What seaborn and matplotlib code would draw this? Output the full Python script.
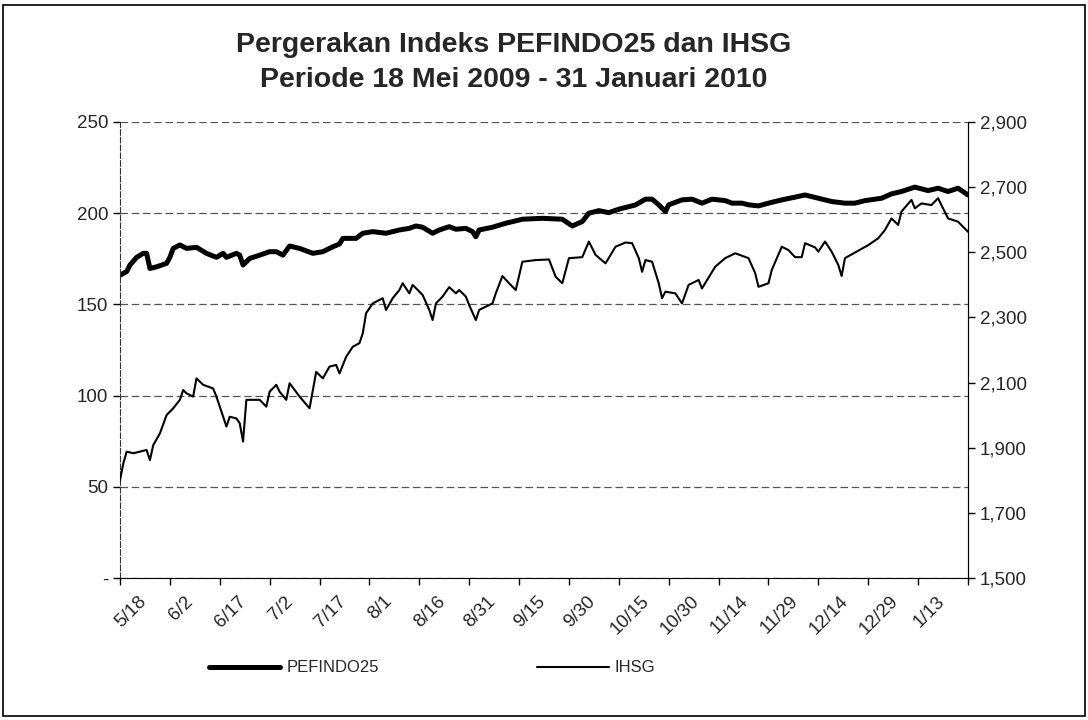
import pandas as pd
import matplotlib
matplotlib.use("Agg")
import matplotlib.pyplot as plt
import matplotlib.transforms as mtransforms
from matplotlib.ticker import FuncFormatter, MultipleLocator, FixedLocator
from matplotlib.patches import Rectangle
import seaborn as sns

# PEFINDO25 index (left axis)
pef_dates = [
    "2009-05-18", "2009-05-20", "2009-05-21", "2009-05-23", "2009-05-25", "2009-05-26",
    "2009-05-27", "2009-05-29", "2009-06-01", "2009-06-02", "2009-06-03", "2009-06-05",
    "2009-06-07", "2009-06-10", "2009-06-13", "2009-06-16", "2009-06-18", "2009-06-19",
    "2009-06-22", "2009-06-23", "2009-06-24", "2009-06-26", "2009-06-29", "2009-07-02",
    "2009-07-04", "2009-07-06", "2009-07-08", "2009-07-11", "2009-07-15", "2009-07-18",
    "2009-07-21", "2009-07-23", "2009-07-24", "2009-07-28", "2009-07-30", "2009-08-02",
    "2009-08-06", "2009-08-10", "2009-08-13", "2009-08-15", "2009-08-17", "2009-08-20",
    "2009-08-22", "2009-08-25", "2009-08-27", "2009-08-30", "2009-09-01", "2009-09-02",
    "2009-09-03", "2009-09-07", "2009-09-11", "2009-09-16", "2009-09-22", "2009-09-28",
    "2009-10-01", "2009-10-04", "2009-10-06", "2009-10-09", "2009-10-12", "2009-10-15",
    "2009-10-18", "2009-10-20", "2009-10-23", "2009-10-25", "2009-10-27", "2009-10-29",
    "2009-10-30", "2009-11-03", "2009-11-06", "2009-11-09", "2009-11-12", "2009-11-16",
    "2009-11-18", "2009-11-21", "2009-11-23", "2009-11-26", "2009-11-29", "2009-12-03",
    "2009-12-07", "2009-12-10", "2009-12-14", "2009-12-18", "2009-12-22", "2009-12-25",
    "2009-12-28", "2010-01-02", "2010-01-05", "2010-01-08", "2010-01-12", "2010-01-16",
    "2010-01-19", "2010-01-22", "2010-01-25", "2010-01-28",
]
pef_values = [
    166, 168, 171.6, 175.8, 178, 178,
    169.7, 170.6, 172.5, 175.8, 180.7, 182.6,
    180.7, 181.3, 178, 175.8, 178, 175.8,
    178, 177, 171.6, 175.2, 177, 178.9,
    178.9, 177, 182, 180.7, 178, 178.9,
    181.6, 183.1, 186.2, 186.2, 189, 189.9,
    189, 190.8, 191.7, 193, 192.3, 189,
    190.8, 192.6, 191.2, 191.7, 189.9, 187.1,
    190.8, 192.3, 194.5, 196.7, 197.2, 196.7,
    193, 195.4, 200, 201.4, 200.3, 202.2,
    203.6, 204.5, 207.7, 207.7, 204.6, 200.9,
    204.6, 207.3, 207.7, 205.5, 207.7, 206.9,
    205.5, 205.5, 204.6, 204, 205.5, 207.3,
    208.8, 210, 208.2, 206.4, 205.5, 205.5,
    206.9, 208.2, 210.6, 211.9, 214.3, 212.4,
    213.7, 211.9, 213.7, 210,
]

# IHSG index (right axis)
ihsg_dates = [
    "2009-05-18", "2009-05-19", "2009-05-20", "2009-05-22", "2009-05-26", "2009-05-27",
    "2009-05-28", "2009-05-30", "2009-06-01", "2009-06-03", "2009-06-05", "2009-06-06",
    "2009-06-07", "2009-06-09", "2009-06-10", "2009-06-12", "2009-06-15", "2009-06-16",
    "2009-06-18", "2009-06-19", "2009-06-20", "2009-06-22", "2009-06-23", "2009-06-24",
    "2009-06-25", "2009-06-29", "2009-07-01", "2009-07-02", "2009-07-04", "2009-07-05",
    "2009-07-07", "2009-07-08", "2009-07-11", "2009-07-14", "2009-07-16", "2009-07-18",
    "2009-07-20", "2009-07-22", "2009-07-23", "2009-07-25", "2009-07-27", "2009-07-29",
    "2009-07-30", "2009-07-31", "2009-08-02", "2009-08-05", "2009-08-06", "2009-08-08",
    "2009-08-10", "2009-08-11", "2009-08-13", "2009-08-14", "2009-08-17", "2009-08-19",
    "2009-08-20", "2009-08-21", "2009-08-23", "2009-08-25", "2009-08-27", "2009-08-28",
    "2009-08-30", "2009-08-31", "2009-09-02", "2009-09-03", "2009-09-07", "2009-09-08",
    "2009-09-10", "2009-09-12", "2009-09-14", "2009-09-16", "2009-09-20", "2009-09-24",
    "2009-09-26", "2009-09-28", "2009-09-30", "2009-10-04", "2009-10-06", "2009-10-08",
    "2009-10-11", "2009-10-14", "2009-10-17", "2009-10-19", "2009-10-21", "2009-10-22",
    "2009-10-23", "2009-10-25", "2009-10-27", "2009-10-28", "2009-10-29", "2009-11-01",
    "2009-11-03", "2009-11-05", "2009-11-08", "2009-11-09", "2009-11-13", "2009-11-16",
    "2009-11-19", "2009-11-23", "2009-11-25", "2009-11-26", "2009-11-29", "2009-11-30",
    "2009-12-03", "2009-12-05", "2009-12-07", "2009-12-09", "2009-12-10", "2009-12-13",
    "2009-12-14", "2009-12-16", "2009-12-18", "2009-12-20", "2009-12-21", "2009-12-22",
    "2009-12-25", "2009-12-29", "2010-01-01", "2010-01-03", "2010-01-05", "2010-01-07",
    "2010-01-08", "2010-01-11", "2010-01-12", "2010-01-14", "2010-01-17", "2010-01-19",
    "2010-01-20", "2010-01-22", "2010-01-25", "2010-01-28",
]
ihsg_values = [
    1800, 1852, 1888, 1883, 1893, 1862,
    1908, 1944, 2000, 2021, 2047, 2077,
    2067, 2057, 2113, 2093, 2082, 2057,
    1995, 1965, 1995, 1990, 1975, 1919,
    2047, 2047, 2026, 2072, 2093, 2072,
    2047, 2098, 2057, 2021, 2133, 2113,
    2149, 2154, 2128, 2179, 2210, 2221,
    2251, 2313, 2343, 2359, 2323, 2359,
    2384, 2405, 2374, 2400, 2369, 2323,
    2292, 2343, 2364, 2393, 2374, 2384,
    2364, 2338, 2292, 2323, 2343, 2374,
    2427, 2405, 2384, 2471, 2476, 2478,
    2425, 2405, 2482, 2485, 2533, 2492,
    2466, 2517, 2530, 2528, 2482, 2440,
    2476, 2471, 2405, 2359, 2379, 2374,
    2343, 2400, 2415, 2389, 2456, 2482,
    2497, 2482, 2436, 2394, 2405, 2446,
    2517, 2507, 2485, 2485, 2528, 2515,
    2502, 2533, 2502, 2461, 2427, 2482,
    2499, 2522, 2543, 2568, 2604, 2584,
    2625, 2661, 2635, 2650, 2645, 2666,
    2645, 2604, 2594, 2563,
]

right_ticks = [1500, 1700, 1900, 2100, 2300, 2500, 2700, 2900]
title_lines = ["Pergerakan Indeks PEFINDO25 dan IHSG", "Periode 18 Mei 2009 - 31 Januari 2010"]

pef = pd.DataFrame({"date": pd.to_datetime(pef_dates), "value": pef_values})
ihsg = pd.DataFrame({"date": pd.to_datetime(ihsg_dates), "value": ihsg_values})

sns.set_style("ticks")
plt.rcParams["font.family"] = ["Liberation Sans", "DejaVu Sans"]

fig = plt.figure(figsize=(10.88, 7.2), dpi=100)
ax = fig.add_axes([120 / 1088, 1 - 578 / 720, 848 / 1088, 456 / 720])
ax2 = ax.twinx()

sns.lineplot(data=pef, x="date", y="value", ax=ax, color="black", linewidth=3.6, label="PEFINDO25", legend=False)
sns.lineplot(data=ihsg, x="date", y="value", ax=ax2, color="black", linewidth=1.5, label="IHSG", legend=False)

# left axis
ax.set_ylim(0, 250)
ax.yaxis.set_major_locator(MultipleLocator(50))
ax.yaxis.set_major_formatter(FuncFormatter(lambda v, p: "-" if v == 0 else f"{v:,.0f}"))
ax.set_ylabel("")
ax.set_xlabel("")
ax.grid(axis="y", color="#555555", linewidth=0.9, linestyle=(0, (6, 3)))

# right axis
ax2.set_ylim(1500, 2900)
ax2.yaxis.set_major_locator(FixedLocator(right_ticks))
ax2.yaxis.set_major_formatter(FuncFormatter(lambda v, p: f"{v:,.0f}"))
ax2.set_ylabel("")

for a in (ax, ax2):
    a.spines["top"].set_visible(False)
    a.tick_params(labelsize=13.5, length=5, width=1, color="black", direction="out")
ax.spines["left"].set_linestyle((0, (5, 2)))
ax.spines["left"].set_color("#333333")
ax2.spines["left"].set_visible(False)
ax2.spines["right"].set_color("black")
ax.spines["bottom"].set_color("black")
ax2.spines["bottom"].set_visible(False)

# date axis, a tick every 15 days
ax.set_xlim(pd.Timestamp("2009-05-18"), pd.Timestamp("2010-01-28"))
ticks = pd.date_range("2009-05-18", "2010-01-28", freq="15D")
ax.set_xticks(ticks)
ax.set_xticklabels([f"{d.month}/{d.day}" for d in ticks[:-1]] + [""])
shift = mtransforms.ScaledTranslation(11 / 100, -3 / 100, fig.dpi_scale_trans)
for lab in ax.get_xticklabels():
    lab.set_rotation(45)
    lab.set_ha("center")
    lab.set_transform(lab.get_transform() + shift)

# title
fig.text(514 / 1088, 1 - 45 / 720, title_lines[0], ha="center", va="center", fontsize=20.5, fontweight="bold")
fig.text(514 / 1088, 1 - 80 / 720, title_lines[1], ha="center", va="center", fontsize=20.5, fontweight="bold")

# legend
handles = [ax.lines[0], ax2.lines[0]]
fig.legend(handles, ["PEFINDO25", "IHSG"], loc="center", bbox_to_anchor=(432 / 1088, 1 - 668 / 720),
           ncol=2, frameon=False, fontsize=12, handlelength=4.3, handletextpad=0.35, columnspacing=9.5)

# chart border
fig.patches.append(Rectangle((0.003, 0.005), 0.994, 0.988, transform=fig.transFigure,
                             fill=False, edgecolor="black", linewidth=1.2))

fig.savefig("out.png", dpi=100)
